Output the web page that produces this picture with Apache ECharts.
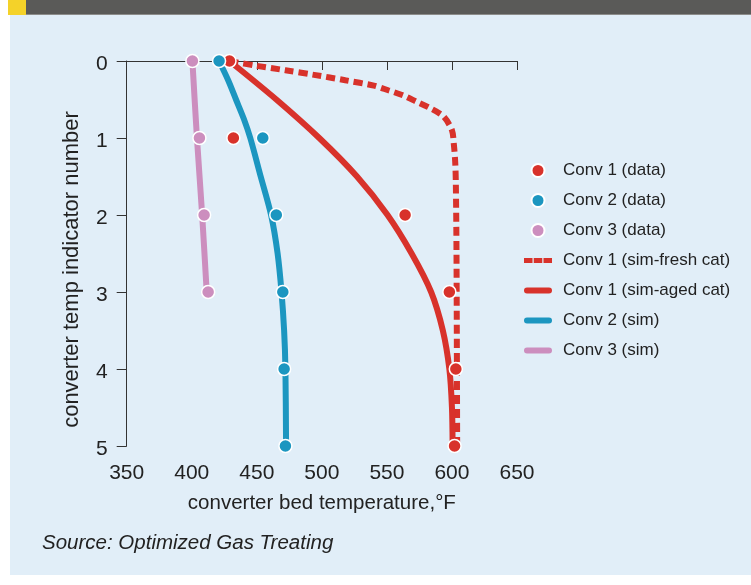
<!DOCTYPE html>
<html>
<head>
<meta charset="utf-8">
<script src="https://cdn.jsdelivr.net/npm/echarts@6/dist/echarts.min.js"></script>
<style>
  html, body { margin: 0; padding: 0; background: #fff; }
  #chart { width: 751px; height: 585px; }
</style>
</head>
<body>
<div id="chart"></div>
<script>
// temperature (°F) vs converter temp indicator number
const conv1Data = [[429, 0], [432, 1], [564, 2], [598, 3], [603, 4], [602, 5]];
const conv2Data = [[421, 0], [454.6, 1], [465, 2], [470, 3], [471, 4], [472, 5]];
const conv3Data = [[400.5, 0], [405.9, 1], [409.5, 2], [412.6, 3]];

const conv1FreshSim = [[429, 0], [449, 0.06], [472, 0.12], [494, 0.18], [518, 0.25], [540, 0.32],
  [551, 0.38], [563, 0.45], [573, 0.53], [583, 0.61], [593.5, 0.72], [600, 0.9], [601.5, 1.09],
  [602.5, 1.31], [603, 1.6], [603.5, 2.5], [604, 5]];
const conv1AgedSim = [[429, 0], [465, 0.5], [498, 1], [527, 1.5], [550.5, 2], [569, 2.5],
  [584, 3], [593, 3.5], [598, 4], [600, 4.5], [600.5, 5]];
const conv2Sim = [[421, 0], [428, 0.25], [434, 0.5], [440, 0.75], [445, 1], [453, 1.5],
  [461, 2], [466, 2.5], [469, 3], [471, 3.5], [472, 4], [472.5, 5]];
const conv3Sim = [[400.5, 0], [404, 1], [408, 2], [411.5, 3]];

const xTicks = { min: 350, max: 650, step: 50 };
const yTicks = { min: 0, max: 5, step: 1 };

const RED = '#d8322b';
const BLUE = '#1c96c0';
const PINK = '#cc8ebe';
const NARROW = '"Liberation Sans Narrow", "Liberation Sans", Arial, sans-serif';

// legend icons: a rounded bar for solid lines, three blocks for the dashed one
const SOLID_ICON = 'path://M3,0H25A3,3 0 0 1 25,6H3A3,3 0 0 1 3,0Z';
const DASH_ICON = 'path://M0,0H8.5V5H0Z M9.75,0H18.25V5H9.75Z M19.5,0H28V5H19.5Z';

const chartInstance = echarts.init(document.getElementById('chart'));

const dotSeries = (name, color, data) => ({
  name: name,
  type: 'scatter',
  data: data,
  symbolSize: 13,
  z: 5,
  itemStyle: { color: color, opacity: 1, borderColor: '#fff', borderWidth: 1.5 }
});

const lineSeries = (name, color, data, dashed) => ({
  name: name,
  type: 'line',
  data: data,
  smooth: 0.3,
  symbol: 'none',
  z: 3,
  lineStyle: { color: color, width: 6, type: dashed ? [9, 5] : 'solid', cap: dashed ? 'butt' : 'round' },
  itemStyle: { color: color }
});

const option = {
  animation: false,
  backgroundColor: 'transparent',
  graphic: [
    { type: 'rect', z: -10, shape: { x: 10, y: 15, width: 741, height: 560 }, style: { fill: '#e1eef8' } },
    { type: 'rect', z: -10, shape: { x: 8, y: 0, width: 18, height: 15 }, style: { fill: '#f4d229' } },
    { type: 'rect', z: -10, shape: { x: 26, y: 0, width: 725, height: 15 }, style: { fill: '#5a5a58' } },
    { type: 'rect', z: -10, shape: { x: 26, y: 14, width: 725, height: 1 }, style: { fill: '#8c8c8a' } },
    {
      type: 'text', left: 42, top: 533,
      style: { text: 'Source: Optimized Gas Treating', font: 'italic 20.5px "Liberation Sans", Arial, sans-serif', fill: '#222' }
    }
  ],
  grid: { left: 126.7, right: 234, top: 61, bottom: 139 },
  legend: {
    orient: 'vertical',
    left: 519,
    top: 157,
    itemWidth: 28,
    itemHeight: 13,
    itemGap: 13,
    itemStyle: { opacity: 1 },
    textStyle: { fontFamily: NARROW, fontSize: 17, color: '#222', padding: [0, 0, 0, 6] },
    data: [
      { name: 'Conv 1 (data)', icon: 'circle' },
      { name: 'Conv 2 (data)', icon: 'circle' },
      { name: 'Conv 3 (data)', icon: 'circle' },
      { name: 'Conv 1 (sim-fresh cat)', icon: DASH_ICON },
      { name: 'Conv 1 (sim-aged cat)', icon: SOLID_ICON },
      { name: 'Conv 2 (sim)', icon: SOLID_ICON },
      { name: 'Conv 3 (sim)', icon: SOLID_ICON }
    ]
  },
  xAxis: {
    type: 'value',
    min: xTicks.min,
    max: xTicks.max,
    interval: xTicks.step,
    name: 'converter bed temperature,°F',
    nameLocation: 'middle',
    nameGap: 47,
    nameTextStyle: { fontFamily: NARROW, fontSize: 20.5, color: '#222' },
    axisLine: { lineStyle: { color: '#333', width: 1 } },
    axisTick: { length: 9, lineStyle: { color: '#333' } },
    axisLabel: { margin: 17, fontFamily: '"Liberation Sans", sans-serif', fontSize: 21, color: '#222' },
    splitLine: { show: false }
  },
  yAxis: {
    type: 'value',
    inverse: true,
    min: yTicks.min,
    max: yTicks.max,
    interval: yTicks.step,
    name: 'converter temp indicator number',
    nameLocation: 'middle',
    nameGap: 44,
    nameTextStyle: { fontFamily: NARROW, fontSize: 22, color: '#222', padding: [0, 32, 0, 0] },
    axisLine: { show: true, lineStyle: { color: '#333', width: 1 } },
    axisTick: { show: true, length: 10, lineStyle: { color: '#333' } },
    axisLabel: {
      margin: 19, verticalAlign: 'top', lineHeight: 6,
      fontFamily: '"Liberation Sans", sans-serif', fontSize: 21, color: '#222'
    },
    splitLine: { show: false }
  },
  series: [
    lineSeries('Conv 1 (sim-fresh cat)', RED, conv1FreshSim, true),
    lineSeries('Conv 1 (sim-aged cat)', RED, conv1AgedSim, false),
    lineSeries('Conv 2 (sim)', BLUE, conv2Sim, false),
    lineSeries('Conv 3 (sim)', PINK, conv3Sim, false),
    dotSeries('Conv 1 (data)', RED, conv1Data),
    dotSeries('Conv 2 (data)', BLUE, conv2Data),
    dotSeries('Conv 3 (data)', PINK, conv3Data)
  ]
};

chartInstance.setOption(option);
</script>
</body>
</html>
